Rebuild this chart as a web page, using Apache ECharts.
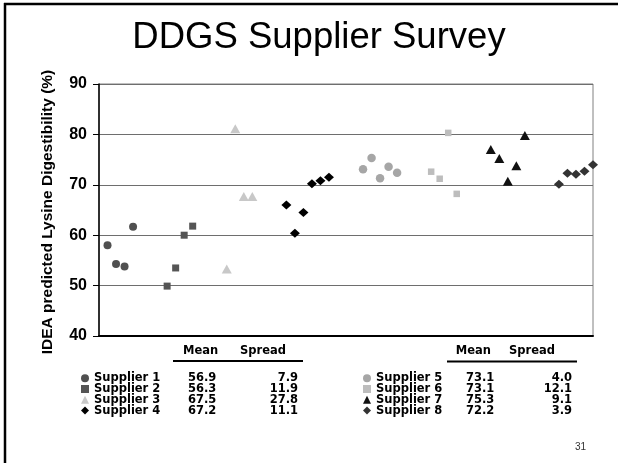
<!DOCTYPE html>
<html>
<head>
<meta charset="utf-8">
<title>DDGS Supplier Survey</title>
<script src="https://cdn.jsdelivr.net/npm/echarts@6/dist/echarts.min.js"></script>
<style>
  html, body { margin: 0; padding: 0; background: #fff; }
  #chart { width: 618px; height: 463px; }
</style>
</head>
<body>
<div id="chart"></div>
<script>
// Supplier names and summary table values
const suppliers = ['Supplier 1', 'Supplier 2', 'Supplier 3', 'Supplier 4',
                   'Supplier 5', 'Supplier 6', 'Supplier 7', 'Supplier 8'];
const tableMean   = ['56.9', '56.3', '67.5', '67.2', '73.1', '73.1', '75.3', '72.2'];
const tableSpread = ['7.9', '11.9', '27.8', '11.1', '4.0', '12.1', '9.1', '3.9'];

// Sample order number of each DDGS sample (x) and its predicted lysine digestibility (y)
const s1x = [1, 2, 3, 4];
const s1y = [58.0, 54.3, 53.8, 61.7];
const s2x = [8, 9, 10, 11];
const s2y = [49.9, 53.5, 60.0, 61.8];
const s3x = [15, 16, 17, 18];
const s3y = [53.3, 81.1, 67.7, 67.7];
const s4x = [22, 23, 24, 25, 26, 27];
const s4y = [66.0, 60.4, 64.5, 70.2, 70.8, 71.5];
const s5x = [31, 32, 33, 34, 35];
const s5y = [73.1, 75.3, 71.3, 73.6, 72.4];
const s6x = [39, 40, 41, 42];
const s6y = [72.6, 71.2, 80.3, 68.2];
const s7x = [46, 47, 48, 49, 50];
const s7y = [77.0, 75.2, 70.7, 73.8, 79.8];
const s8x = [54, 55, 56, 57, 58];
const s8y = [70.1, 72.3, 72.1, 72.7, 74.0];

// Y axis ticks
const yTicks = [40, 50, 60, 70, 80, 90];

const xs = [s1x, s2x, s3x, s4x, s5x, s6x, s7x, s8x];
const ys = [s1y, s2y, s3y, s4y, s5y, s6y, s7y, s8y];

const markerStyles = [
  { symbol: 'circle',   size: 8,       color: '#505050' },
  { symbol: 'rect',     size: 7,       color: '#555555' },
  { symbol: 'triangle', size: [10, 9], color: '#c8c8c8' },
  { symbol: 'diamond',  size: [10, 9], color: '#000000' },
  { symbol: 'circle',   size: 8.5,     color: '#a6a6a6' },
  { symbol: 'rect',     size: 6.5,     color: '#bdbdbd' },
  { symbol: 'triangle', size: [10, 9], color: '#111111' },
  { symbol: 'diamond',  size: [10, 9], color: '#333333' }
];

const series = suppliers.map((name, i) => ({
  name: name,
  type: 'scatter',
  symbol: markerStyles[i].symbol,
  symbolSize: markerStyles[i].size,
  itemStyle: { color: markerStyles[i].color, opacity: 1 },
  emphasis: { disabled: true },
  data: xs[i].map((x, j) => [x, ys[i][j]])
}));

const FONT = '"Liberation Sans", Arial, sans-serif';
const WIDE = '"DejaVu Sans", sans-serif';
const TABLE_SIZE = 11.5;
const rowFont = { fontFamily: WIDE, fontWeight: 'bold', fontSize: TABLE_SIZE, color: '#000', lineHeight: 14 };

function legendBlock(names, left, nameW, meanW, spreadW) {
  return {
    data: names,
    orient: 'vertical',
    left: left,
    top: 371.2,
    itemWidth: 8,
    itemHeight: 8,
    itemGap: -3.2,
    padding: 0,
    selectedMode: false,
    formatter: function (name) {
      const k = suppliers.indexOf(name);
      return '{n|' + name + '}{m|' + tableMean[k] + '}{s|' + tableSpread[k] + '}';
    },
    textStyle: Object.assign({}, rowFont, {
      rich: {
        n: Object.assign({}, rowFont, { width: nameW }),
        m: Object.assign({}, rowFont, { width: meanW }),
        s: Object.assign({}, rowFont, { width: spreadW, align: 'right' })
      }
    })
  };
}

function txt(text, x, y, size, weight, align, extra, color, family) {
  return Object.assign({
    type: 'text',
    x: x, y: y,
    silent: true,
    style: {
      text: text,
      font: weight + ' ' + size + 'px ' + (family || FONT),
      fill: color || '#000',
      textAlign: align, align: align,
      textVerticalAlign: 'middle', verticalAlign: 'middle'
    }
  }, extra || {});
}

function hline(x1, x2, y, w, color) {
  return { type: 'line', silent: true, shape: { x1: x1, y1: y, x2: x2, y2: y },
           style: { stroke: color, lineWidth: w } };
}

const chart = echarts.init(document.getElementById('chart'), null, { renderer: 'canvas' });

chart.setOption({
  animation: false,
  backgroundColor: '#ffffff',
  grid: { left: 99, right: 25, top: 84, bottom: 127, show: true,
          borderColor: '#808080', borderWidth: 1, backgroundColor: 'transparent' },
  xAxis: {
    type: 'value', min: 0, max: 58,
    axisLine: { show: true, onZero: false, lineStyle: { color: '#000', width: 2 } },
    axisTick: { show: false }, axisLabel: { show: false }, splitLine: { show: false }
  },
  yAxis: {
    type: 'value', min: yTicks[0], max: yTicks[yTicks.length - 1], interval: 10,
    axisLine: { show: true, lineStyle: { color: '#000', width: 1.5 } },
    axisTick: { show: true, length: 6, lineStyle: { color: '#000', width: 1 } },
    axisLabel: { margin: 12, fontFamily: FONT, fontWeight: 'bold', fontSize: 16, color: '#000',
                 formatter: v => (yTicks.indexOf(v) >= 0 ? String(v) : '') },
    splitLine: { show: true, lineStyle: { color: '#6e6e6e', width: 1 } }
  },
  legend: [
    legendBlock(suppliers.slice(0, 4), 81, 94, 40, 70),
    legendBlock(suppliers.slice(4), 363, 90, 40, 66)
  ],
  series: series,
  graphic: [
    // slide frame
    hline(4, 618, 4, 2.5, '#000'),
    { type: 'line', silent: true, shape: { x1: 5, y1: 3, x2: 5, y2: 463 },
      style: { stroke: '#000', lineWidth: 2.5 } },
    // title
    txt('DDGS Supplier Survey', 319, 38, 36.5, 'normal', 'center'),
    // y axis title
    txt('IDEA predicted Lysine Digestibility (%)', 47.5, 212, 15.5, 'bold', 'center',
        { rotation: Math.PI / 2 }),
    // table headers
    txt('Mean', 183, 350.7, TABLE_SIZE, 'bold', 'left', null, null, WIDE),
    txt('Spread', 240, 350.7, TABLE_SIZE, 'bold', 'left', null, null, WIDE),
    hline(173, 303, 361, 2, '#000'),
    txt('Mean', 455.7, 350.7, TABLE_SIZE, 'bold', 'left', null, null, WIDE),
    txt('Spread', 509, 350.7, TABLE_SIZE, 'bold', 'left', null, null, WIDE),
    hline(447, 577, 361.5, 2, '#000'),
    // page number
    txt('31', 580.5, 447, 10, 'normal', 'center', null, '#333')
  ]
});
</script>
</body>
</html>
